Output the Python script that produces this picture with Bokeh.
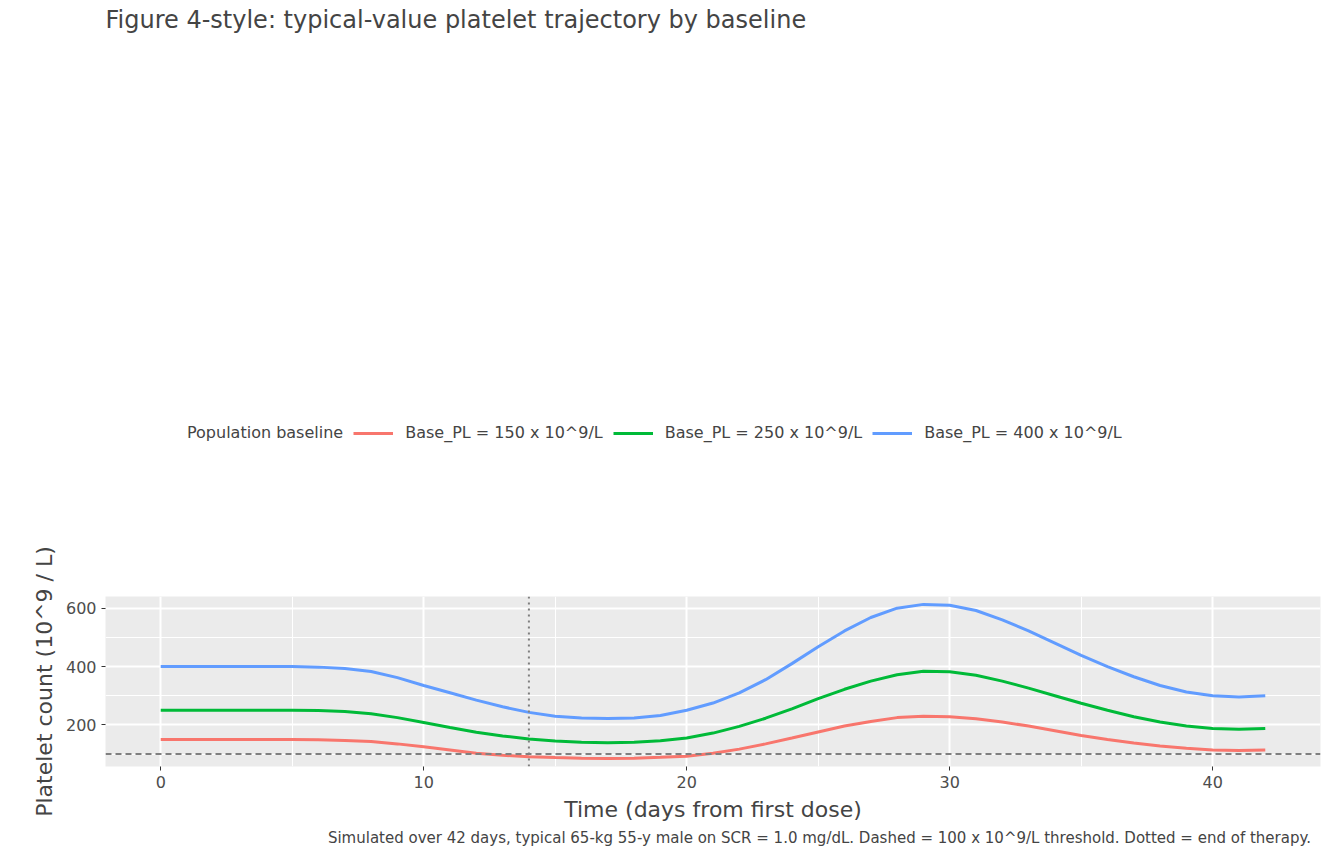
from bokeh.plotting import figure
from bokeh.models import Span, Legend, LegendItem, FixedTicker, Title
from bokeh.embed import file_html
from bokeh.resources import INLINE

days = [0, 2, 4, 5, 6, 7, 8, 9, 10, 11, 12, 13, 14, 15, 16, 17, 18, 19, 20, 21, 22, 23, 24, 25, 26, 27, 28, 29, 30, 31, 32, 33, 34, 35, 36, 37, 38, 39, 40, 41, 42]
pl400 = [400, 400, 400, 400, 398, 393, 383, 362, 335, 310, 285, 262, 243, 230, 224, 222, 224, 232, 250, 275, 310, 355, 410, 468, 522, 568, 600, 613, 610, 592, 560, 522, 480, 438, 400, 365, 335, 313, 300, 296, 300]
pl250 = [250, 250, 250, 250, 249, 246, 238, 225, 208, 191, 175, 162, 152, 145, 141, 139, 141, 146, 155, 172, 195, 223, 255, 290, 322, 350, 372, 384, 382, 370, 350, 326, 300, 274, 250, 228, 210, 196, 188, 185, 188]
pl150 = [150, 150, 150, 150, 149, 147, 143, 135, 125, 114, 103, 96, 91, 88, 86, 85, 86, 89, 93, 103, 117, 135, 155, 176, 196, 212, 225, 230, 228, 221, 210, 196, 180, 164, 150, 138, 128, 120, 114, 112, 114]
series = [("Base_PL = 150 x 10^9/L", pl150, "#F8766D"),
          ("Base_PL = 250 x 10^9/L", pl250, "#00BA38"),
          ("Base_PL = 400 x 10^9/L", pl400, "#619CFF")]

p = figure(width=1328, height=848, output_backend="svg", toolbar_location=None,
           x_range=(-2.1, 44.1), y_range=(57.5, 640),
           min_border_left=105, min_border_right=8, min_border_top=10, min_border_bottom=10)
p.background_fill_color = "#EBEBEB"
p.outline_line_color = None
for ax in (p.xaxis, p.yaxis):
    ax.axis_line_color = None
    ax.major_tick_line_color = "#333333"
    ax.minor_tick_line_color = None
    ax.major_tick_out = 4
    ax.major_tick_in = 0
    ax.major_label_text_font_size = "16px"
    ax.major_label_text_color = "#4D4D4D"
    ax.axis_label_text_font_size = "22px"
    ax.axis_label_text_font_style = "normal"
    ax.axis_label_text_font = "DejaVu Sans"
    ax.major_label_text_font = "DejaVu Sans"
    ax.axis_label_standoff = 6
p.xaxis.ticker = FixedTicker(ticks=[0, 10, 20, 30, 40], minor_ticks=[5, 15, 25, 35])
p.yaxis.ticker = FixedTicker(ticks=[200, 400, 600], minor_ticks=[100, 300, 500])
p.xaxis.axis_label = "Time (days from first dose)"
p.yaxis.axis_label = "Platelet count (10^9 / L)"
p.grid.grid_line_color = "white"
p.grid.grid_line_width = 2
p.grid.minor_grid_line_color = "white"
p.grid.minor_grid_line_width = 1

dummy = p.line([0], [400], line_alpha=0)
items = [LegendItem(label="Population baseline", renderers=[dummy])]
for name, ys, c in series:
    r = p.line(days, ys, line_color=c, line_width=3)
    items.append(LegendItem(label=name, renderers=[r]))

p.add_layout(Span(location=100, dimension="width", line_color="#7F7F7F", line_dash="6 4", line_width=2))
p.add_layout(Span(location=14, dimension="height", line_color="#7F7F7F", line_dash="2 4", line_width=2))

leg = Legend(items=items, orientation="horizontal", location="top_left",
             label_text_font_size="16px", label_text_font="DejaVu Sans",
             background_fill_alpha=0, border_line_color=None, glyph_width=40, glyph_height=40,
             spacing=10, padding=0, label_standoff=12, margin=30)
p.add_layout(leg, "above")

p.add_layout(Title(text="Figure 4-style: typical-value platelet trajectory by baseline",
                   text_font_size="24px", text_font="DejaVu Sans", text_font_style="normal",
                   offset=0, standoff=6), "above")
p.add_layout(Title(text="Simulated over 42 days, typical 65-kg 55-y male on SCR = 1.0 mg/dL.  Dashed = 100 x 10^9/L threshold.  Dotted = end of therapy.",
                   text_font_size="15px", text_font="DejaVu Sans", text_font_style="normal",
                   align="right", standoff=4), "below")

open("out.html", "w").write(file_html(p, INLINE))
